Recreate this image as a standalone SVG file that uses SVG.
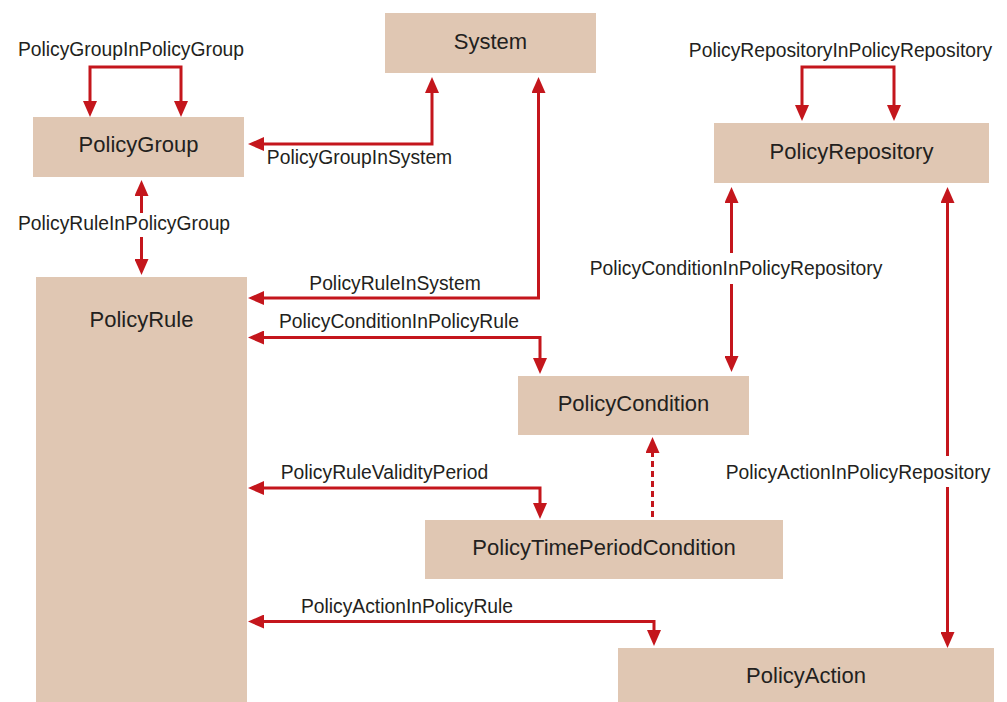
<svg xmlns="http://www.w3.org/2000/svg" width="1007" height="702" viewBox="0 0 1007 702">
  <style>
    .box { fill: #e0c7b3; }
    .node-label { font-family: "Liberation Sans", Arial, sans-serif; font-size: 22px; fill: #231f20; text-anchor: middle; }
    .edge-label { font-family: "Liberation Sans", Arial, sans-serif; font-size: 19.3px; fill: #231f20; text-anchor: middle; }
    .edge { fill: none; stroke: #c4161c; stroke-width: 3; marker-end: url(#arrow); }
    .both { marker-start: url(#arrow); }
    .dashed { stroke-dasharray: 6 4; }
  </style>
  <defs>
    <marker id="arrow" markerUnits="userSpaceOnUse" markerWidth="16" markerHeight="14" refX="2" refY="7" orient="auto-start-reverse">
      <path d="M0,0 L16,7 L0,14 z" fill="#c4161c"/>
    </marker>
  </defs>
  <rect width="1007" height="702" fill="#ffffff"/>

  <g id="system">
    <rect class="box" x="385" y="13" width="211" height="60"/>
    <text class="node-label" x="490.5" y="49">System</text>
  </g>
  <g id="policy-group">
    <rect class="box" x="33" y="117" width="211" height="60"/>
    <text class="node-label" x="138.5" y="152">PolicyGroup</text>
  </g>
  <g id="policy-rule">
    <rect class="box" x="36" y="277" width="211" height="425"/>
    <text class="node-label" x="141.5" y="327">PolicyRule</text>
  </g>
  <g id="policy-repository">
    <rect class="box" x="714" y="123" width="275" height="60"/>
    <text class="node-label" x="851.5" y="159">PolicyRepository</text>
  </g>
  <g id="policy-condition">
    <rect class="box" x="518" y="376" width="231" height="59"/>
    <text class="node-label" x="633.5" y="411">PolicyCondition</text>
  </g>
  <g id="policy-time-period-condition">
    <rect class="box" x="425" y="520" width="358" height="59"/>
    <text class="node-label" x="604" y="555">PolicyTimePeriodCondition</text>
  </g>
  <g id="policy-action">
    <rect class="box" x="618" y="648" width="376" height="54"/>
    <text class="node-label" x="806" y="683">PolicyAction</text>
  </g>

  <g id="connectors">
    <!-- PolicyGroupInPolicyGroup -->
    <path class="edge both" d="M90,103 V67 H181 V103"/>
    <!-- PolicyGroupInSystem -->
    <path class="edge both" d="M262,144 H432 V91"/>
    <!-- PolicyRuleInPolicyGroup -->
    <path class="edge" d="M141.5,213 V194"/>
    <path class="edge" d="M141.5,237 V261"/>
    <!-- PolicyRuleInSystem -->
    <path class="edge both" d="M262,298 H538.5 V91"/>
    <!-- PolicyConditionInPolicyRule -->
    <path class="edge both" d="M262,337.5 H540 V360"/>
    <!-- PolicyRepositoryInPolicyRepository -->
    <path class="edge both" d="M802,107 V67 H894 V107"/>
    <!-- PolicyConditionInPolicyRepository -->
    <path class="edge" d="M731.5,253 V201"/>
    <path class="edge" d="M731.5,284 V358"/>
    <!-- PolicyActionInPolicyRepository -->
    <path class="edge" d="M947.5,456 V201"/>
    <path class="edge" d="M947.5,487 V634"/>
    <!-- PolicyRuleValidityPeriod -->
    <path class="edge both" d="M262,488 H540 V505"/>
    <!-- PolicyTimePeriodCondition specialises PolicyCondition -->
    <path class="edge dashed" d="M652.5,517 V451"/>
    <!-- PolicyActionInPolicyRule -->
    <path class="edge both" d="M262,621.5 H654 V632"/>
  </g>

  <g id="connector-labels">
    <text class="edge-label" x="131" y="56">PolicyGroupInPolicyGroup</text>
    <text class="edge-label" x="359.5" y="164">PolicyGroupInSystem</text>
    <text class="edge-label" x="124" y="230">PolicyRuleInPolicyGroup</text>
    <text class="edge-label" x="395" y="290">PolicyRuleInSystem</text>
    <text class="edge-label" x="399" y="328">PolicyConditionInPolicyRule</text>
    <text class="edge-label" x="840.5" y="57">PolicyRepositoryInPolicyRepository</text>
    <text class="edge-label" x="736" y="275">PolicyConditionInPolicyRepository</text>
    <text class="edge-label" x="858" y="479">PolicyActionInPolicyRepository</text>
    <text class="edge-label" x="384.5" y="479">PolicyRuleValidityPeriod</text>
    <text class="edge-label" x="407" y="613">PolicyActionInPolicyRule</text>
  </g>
</svg>
